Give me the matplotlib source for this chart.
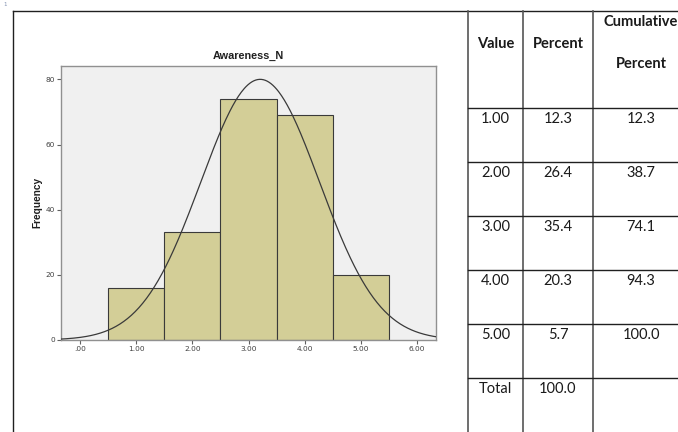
import numpy as np
import matplotlib.pyplot as plt
from matplotlib.lines import Line2D

# histogram counts per score
scores = [1, 2, 3, 4, 5]
counts = [16, 33, 74, 69, 20]

# frequency table shown beside the chart
tbl_values = ["1.00", "2.00", "3.00", "4.00", "5.00", "Total"]
tbl_percent = ["12.3", "26.4", "35.4", "20.3", "5.7", "100.0"]
tbl_cumulative = ["12.3", "38.7", "74.1", "94.3", "100.0", ""]

xtick_vals = [0, 1, 2, 3, 4, 5, 6]
xtick_labels = [".00", "1.00", "2.00", "3.00", "4.00", "5.00", "6.00"]
ytick_vals = [0, 20, 40, 60, 80]

W, H = 678, 432
fig = plt.figure(figsize=(W / 100, H / 100), dpi=100)


def px(x, y):
    # pixel coords (origin top-left) -> figure fraction
    return x / W, 1 - y / H


# --- histogram with normal curve ---
left, top, right, bottom = 61, 65.7, 436, 340
ax = fig.add_axes([left / W, 1 - bottom / H, (right - left) / W, (bottom - top) / H])
ax.set_facecolor("#f0f0f0")
ax.bar(scores, counts, width=1.0, color="#d3ce97", edgecolor="#3a3a3a", linewidth=0.8, zorder=2)

n = sum(counts)
mu = np.dot(scores, counts) / n
sd = np.sqrt(np.dot(np.square(scores), counts) / n - mu ** 2)
xs = np.linspace(-0.4, 6.4, 400)
ys = n / (sd * np.sqrt(2 * np.pi)) * np.exp(-0.5 * ((xs - mu) / sd) ** 2)
ax.plot(xs, ys, color="#3a3a3a", linewidth=0.9, zorder=3)

ax.set_xlim(-0.34, 6.34)
ax.set_ylim(0, 84.2)
ax.set_xticks(xtick_vals)
ax.set_xticklabels(xtick_labels)
ax.set_yticks(ytick_vals)
ax.tick_params(labelsize=5.3, length=3, width=0.8, color="#606060", labelcolor="#404040", pad=1.5)
for s in ax.spines.values():
    s.set_color("#909090")
    s.set_linewidth(1.0)
ax.set_title("Awareness_N", fontsize=7.8, fontweight="semibold", color="#202020", pad=5,
             family="Liberation Sans")
ax.set_ylabel("Frequency", fontsize=7.3, fontweight="bold", color="#202020", labelpad=2,
              family="Liberation Sans")

# --- frame and table grid lines ---
def hline(y, x0, x1, **kw):
    (a, b), (c, _) = px(x0, y), px(x1, y)
    fig.add_artist(Line2D([a, c], [b, b], transform=fig.transFigure, **kw))


def vline(x, y0, y1, **kw):
    (a, b), (_, d) = px(x, y0), px(x, y1)
    fig.add_artist(Line2D([a, a], [b, d], transform=fig.transFigure, **kw))


line_kw = dict(color="#202020", linewidth=1.0)
hline(11, 13, W, **line_kw)
vline(13, 11, H, **line_kw)
for cx in [468, 523, 593]:
    vline(cx, 11, H, color="#555555", linewidth=1.2)
for ry in [108, 162, 216, 270, 324, 378]:
    hline(ry, 468, W, **line_kw)

fig.text(*px(3, 4), "1", fontsize=4, color="#8090b0", va="center")

# --- table text ---
col_x = [495.5, 558, 641]
tfont = dict(family="Lato", fontsize=10.5, color="#1a1a1a", ha="center", va="center")
fig.text(*px(col_x[0], 44), "Value", fontweight="bold", **tfont)
fig.text(*px(col_x[1], 44), "Percent", fontweight="bold", **tfont)
fig.text(*px(col_x[2], 22), "Cumulative", fontweight="bold", **tfont)
fig.text(*px(col_x[2], 64), "Percent", fontweight="bold", **tfont)

for i, (v, p, c) in enumerate(zip(tbl_values, tbl_percent, tbl_cumulative)):
    y = 119 + i * 54
    fig.text(*px(col_x[0], y), v, **tfont)
    fig.text(*px(col_x[1], y), p, **tfont)
    if c:
        fig.text(*px(col_x[2], y), c, **tfont)

fig.savefig("out.png", dpi=100)
